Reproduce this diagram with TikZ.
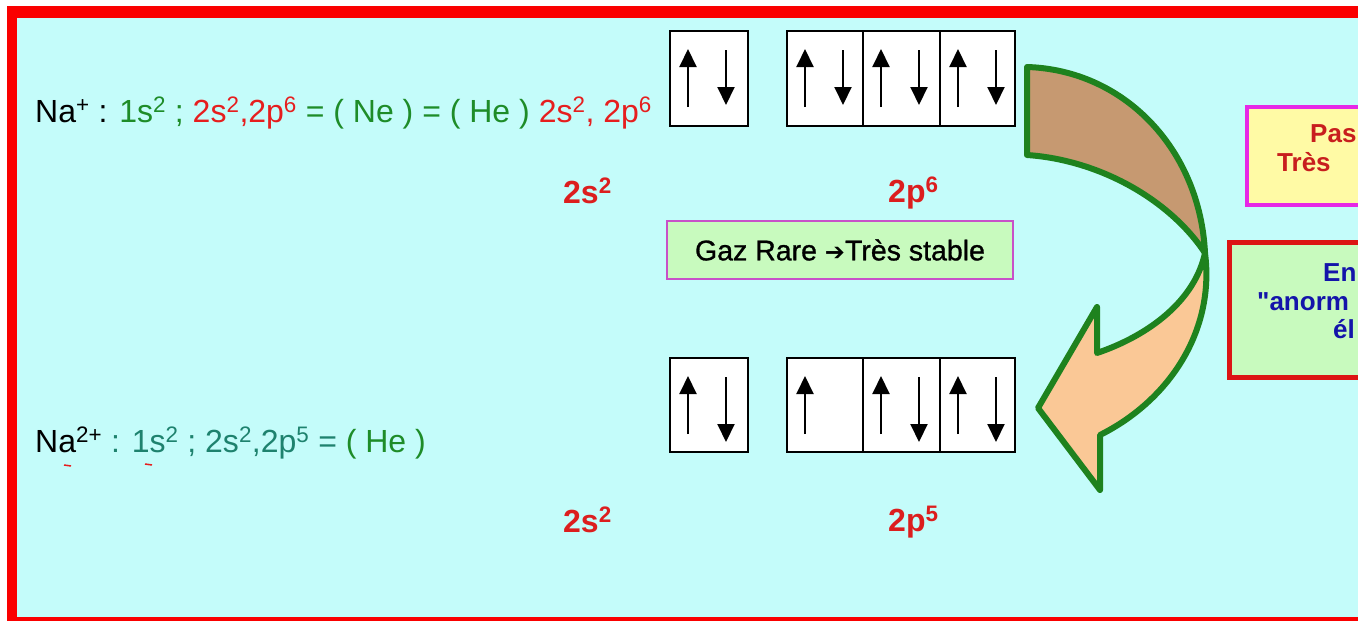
\documentclass[tikz,border=0pt]{standalone}
\usepackage{fontspec}
\setmainfont{Liberation Sans}
\newfontfamily\dejavu{DejaVu Sans}
\newfontfamily\gazfont[FakeBold=1]{Liberation Sans}
\usetikzlibrary{arrows.meta}
\definecolor{bgcyan}{RGB}{196,252,250}
\definecolor{frame}{RGB}{250,0,0}
\definecolor{tgreen}{RGB}{30,140,40}
\definecolor{tred}{RGB}{230,30,30}
\definecolor{tteal}{RGB}{30,130,110}
\definecolor{lred}{RGB}{220,30,30}
\definecolor{agreen}{RGB}{30,130,30}
\definecolor{abrown}{RGB}{198,153,113}
\definecolor{aorange}{RGB}{250,200,150}
\definecolor{gazfill}{RGB}{200,250,190}
\definecolor{gazborder}{RGB}{200,80,200}
\definecolor{yfill}{RGB}{255,250,165}
\definecolor{ymag}{RGB}{230,40,230}
\definecolor{gfill}{RGB}{200,250,190}
\definecolor{rborder}{RGB}{220,20,20}
\definecolor{dred}{RGB}{200,30,30}
\definecolor{tblue}{RGB}{20,20,170}
\tikzset{
  txt/.style={inner sep=0pt, anchor=base west, font=\fontsize{32}{36}\selectfont},
  lbl/.style={inner sep=0pt, anchor=base west, text=lred, font=\bfseries\fontsize{32}{36}\selectfont},
  rtxt/.style={inner sep=0pt, anchor=base west, font=\bfseries\fontsize{26}{30}\selectfont},
  cell/.style={draw=black, line width=1.5pt, fill=white, minimum height=95pt, inner sep=0pt, anchor=north west},
  spinarrow/.style={line width=2pt, -{Triangle[length=18pt,width=17pt]}},
  bigarrow/.style={draw=agreen, line width=6pt, line join=round}
}
\newcommand\upspin[1]{\draw[spinarrow] ([xshift=19pt,yshift=-77pt]#1.north west) -- ([xshift=19pt,yshift=-19pt]#1.north west);}
\newcommand\downspin[2]{\draw[spinarrow] ([xshift=57pt,yshift=-20pt]#1.north west) -- ([xshift=57pt,yshift=-#2pt]#1.north west);}
\begin{document}
\begin{tikzpicture}[x=1pt,y=-1pt]
\useasboundingbox (0,0) rectangle (1358,621);
% background and frame
\fill[white] (0,0) rectangle (1358,621);
\fill[frame] (7,6) rectangle (1358,621);
\fill[bgcyan] (17,18) rectangle (1358,617);

% formula lines
\node[txt] (naplus) at (35,122) {Na\textsuperscript{+} : {\color{tgreen}1s\textsuperscript{2} ;} {\color{tred}2s\textsuperscript{2},2p\textsuperscript{6}} {\color{tgreen}= ( Ne ) = ( He )} {\color{tred}2s\textsuperscript{2}, 2p\textsuperscript{6}}};
\node[txt] (natwo) at (35,452) {Na\textsuperscript{2+} {\color{tteal}: 1s\textsuperscript{2} ; 2s\textsuperscript{2},2p\textsuperscript{5} =} {\color{tgreen}( He )}};
\draw[tred, line width=1.5pt] (64,465) -- (71,466);
\draw[tred, line width=1.5pt] (145,464) -- (152,465);

% top orbital boxes
\node[cell, minimum width=78pt] (ts) at (669,30) {};
\node[cell, minimum width=76pt] (tpa) at (786,30) {};
\node[cell, minimum width=77pt] (tpb) at (862,30) {};
\node[cell, minimum width=75pt] (tpc) at (939,30) {};
\upspin{ts}\downspin{ts}{75}
\upspin{tpa}\downspin{tpa}{75}
\upspin{tpb}\downspin{tpb}{75}
\upspin{tpc}\downspin{tpc}{75}

% bottom orbital boxes
\node[cell, minimum width=78pt, minimum height=94pt] (bs) at (669,357) {};
\node[cell, minimum width=76pt, minimum height=94pt] (bpa) at (786,357) {};
\node[cell, minimum width=77pt, minimum height=94pt] (bpb) at (862,357) {};
\node[cell, minimum width=75pt, minimum height=94pt] (bpc) at (939,357) {};
\upspin{bs}\downspin{bs}{85}
\upspin{bpa}
\upspin{bpb}\downspin{bpb}{85}
\upspin{bpc}\downspin{bpc}{85}

% labels
\node[lbl] (ls1) at (563,203) {2s\textsuperscript{2}};
\node[lbl] (lp1) at (888,202) {2p\textsuperscript{6}};
\node[lbl] (ls2) at (563,532) {2s\textsuperscript{2}};
\node[lbl] (lp2) at (888,531) {2p\textsuperscript{5}};

% gaz rare box
\node[draw=gazborder, line width=1.5pt, fill=gazfill, minimum width=346pt, minimum height=58pt, inner sep=0pt,
      font=\gazfont\fontsize{28.5}{32}\selectfont] (gaz) at (840,250) {Gaz Rare {\dejavu\bfseries\fontsize{24}{28}\selectfont ➔}Très stable};

% big curved arrow
\path[bigarrow, fill=abrown] (1027,67) .. controls (1125,70) and (1200,150) .. (1205,253)
   .. controls (1170,200) and (1100,160) .. (1027,155) -- cycle;
\path[bigarrow, fill=aorange] (1205,253) .. controls (1215,330) and (1170,400) .. (1100,435)
   -- (1100,490) -- (1038,408) -- (1097,307) -- (1097,353)
   .. controls (1150,335) and (1195,300) .. (1205,253) -- cycle;

% right boxes (cut by the picture edge)
\node[draw=ymag, line width=4pt, fill=yfill, minimum width=140pt, minimum height=98pt, anchor=north west, inner sep=0pt] (ybox) at (1245,105) {};
\node[rtxt, text=dred] (pas) at (1310,142) {Pas};
\node[rtxt, text=dred] (tres) at (1277,171) {Très};
\node[draw=rborder, line width=5pt, fill=gfill, minimum width=160pt, minimum height=135pt, anchor=north west, inner sep=0pt] (gbox) at (1227,240) {};
\node[rtxt, text=tblue] (en) at (1323,281) {En};
\node[rtxt, text=tblue] (anorm) at (1257,310) {{\addfontfeatures{Ligatures=TeXOff}"}anorm};
\node[rtxt, text=tblue] (el) at (1333,338) {él};
\end{tikzpicture}
\end{document}
